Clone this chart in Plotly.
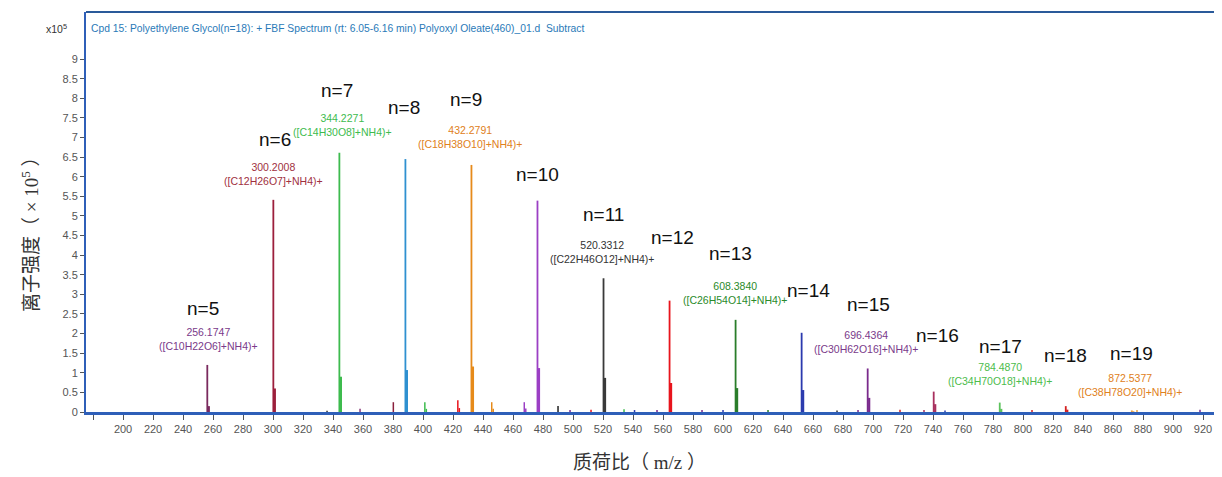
import plotly.graph_objects as go

# ---------------- data ----------------
# main PEG oligomer peaks ([M+NH4]+), intensities in x10^5
main_mz = [256.17, 300.20, 344.23, 388.25, 432.28, 476.30, 520.33, 564.36,
           608.38, 652.41, 696.44, 740.46, 784.49, 828.51, 872.54]
main_h = [1.20, 5.41, 6.61, 6.45, 6.30, 5.39, 3.41, 2.84,
          2.35, 2.02, 1.11, 0.52, 0.24, 0.15, 0.04]
iso_h = [0.15, 0.60, 0.90, 1.07, 1.16, 1.12, 0.87, 0.74,
         0.61, 0.56, 0.36, 0.20, 0.08, 0.06, 0.02]
main_colors = ["#7a2a5e", "#9c1f3c", "#3dbb4e", "#2f90d0", "#e68a1a",
               "#9b3fc4", "#3a3a3a", "#e8141c", "#2a7d2a", "#2b3aae",
               "#7a2a8c", "#a8305e", "#5cc25c", "#d42020", "#e8a040"]
n_labels = ["n=5", "n=6", "n=7", "n=8", "n=9", "n=10", "n=11", "n=12",
            "n=13", "n=14", "n=15", "n=16", "n=17", "n=18", "n=19"]

# minor peaks
minor_mz = [336.0, 358.0, 380.2, 401.2, 402.2, 423.2, 424.2, 445.8, 446.8,
            467.5, 468.5, 490.0, 498.0, 512.0, 534.0, 541.0, 556.0, 586.0,
            600.0, 630.0, 676.0, 690.0, 718.0, 734.0, 748.0, 806.0, 876.0, 918.0]
minor_h = [0.03, 0.08, 0.25, 0.25, 0.08, 0.30, 0.10, 0.25, 0.08,
           0.25, 0.09, 0.15, 0.05, 0.06, 0.07, 0.05, 0.05, 0.05,
           0.05, 0.05, 0.04, 0.05, 0.06, 0.05, 0.04, 0.05, 0.05, 0.06]
minor_colors = ["#333333", "#8a3a7a", "#8a1f3c", "#3dbb4e", "#3dbb4e", "#e8141c",
                "#e8141c", "#e68a1a", "#e68a1a", "#9b3fc4", "#9b3fc4", "#222222",
                "#7a2a8c", "#e8141c", "#3dbb4e", "#2b3aae", "#7a2a8c", "#7a2a8c",
                "#2b3aae", "#2a7d2a", "#333333", "#7a2a8c", "#d42020", "#a8305e",
                "#2b3aae", "#d42020", "#e8a040", "#7a2a8c"]

# annotated masses
mass_mz = [256.1747, 300.2008, 344.2271, 432.2791, 520.3312,
           608.3840, 696.4364, 784.4870, 872.5377]
mass_formula = ["([C10H22O6]+NH4)+", "([C12H26O7]+NH4)+", "([C14H30O8]+NH4)+",
                "([C18H38O10]+NH4)+", "([C22H46O12]+NH4)+", "([C26H54O14]+NH4)+",
                "([C30H62O16]+NH4)+", "([C34H70O18]+NH4)+", "([C38H78O20]+NH4)+"]
mass_colors = ["#7a3a8a", "#a0303e", "#3dbb4e", "#e08020", "#333333",
               "#2a8a2a", "#7a3a8a", "#4cbc4c", "#e08020"]

x_tick_vals = list(range(180, 921, 20))
y_tick_vals = [i * 0.5 for i in range(19)]

# ---------------- label positions (styling) ----------------
n_pos_x = [253.3, 301.3, 342.7, 387.3, 428.7, 476.0, 520.0, 566.0,
           605.3, 656.7, 696.7, 743.3, 784.7, 828.0, 872.0]
n_pos_y = [2.65, 6.94, 8.21, 7.76, 7.96, 6.05, 5.03, 4.46,
           4.05, 3.09, 2.73, 1.94, 1.66, 1.45, 1.48]
mass_pos_x = [256.7, 300.0, 346.0, 431.3, 519.3, 608.0, 695.3, 784.7, 871.3]
mass_pos_y = [1.87, 6.07, 7.32, 7.02, 4.08, 3.04, 1.79, 0.96, 0.70]

fig = go.Figure()


def add_stick(mz, h, color, width=1.8):
    fig.add_trace(go.Scatter(x=[mz, mz], y=[0, h], mode="lines",
                             line=dict(color=color, width=width),
                             showlegend=False, hoverinfo="x+y"))


for mz, h, hi, c in zip(main_mz, main_h, iso_h, main_colors):
    add_stick(mz, h, c)
    add_stick(mz + 1.0, hi, c, 2.2)

for mz, h, c in zip(minor_mz, minor_h, minor_colors):
    add_stick(mz, h, c, 1.5)

annotations = []
for t, x, y in zip(n_labels, n_pos_x, n_pos_y):
    annotations.append(dict(x=x, y=y, xref="x", yref="y", text=t, showarrow=False,
                            font=dict(family="Liberation Sans, Arial", size=19, color="#111111")))
for mz, f, c, x, y in zip(mass_mz, mass_formula, mass_colors, mass_pos_x, mass_pos_y):
    annotations.append(dict(x=x, y=y, xref="x", yref="y", text=f"{mz:.4f}<br>{f}",
                            showarrow=False, align="center",
                            font=dict(family="Liberation Sans, Arial", size=10.5, color=c)))

annotations.append(dict(x=0, y=1, xref="paper", yref="paper", xanchor="left", yanchor="middle",
                        xshift=3, yshift=-16, showarrow=False,
                        text="Cpd 15: Polyethylene Glycol(n=18): + FBF Spectrum (rt: 6.05-6.16 min) "
                             "Polyoxyl Oleate(460)_01.d  Subtract",
                        font=dict(family="Liberation Sans, Arial", size=10.3, color="#2a7ab8")))
annotations.append(dict(x=0, y=1, xref="paper", yref="paper", xanchor="right", yanchor="middle",
                        xshift=-17, yshift=-16, showarrow=False,
                        text="x10<sup>5</sup>",
                        font=dict(family="Liberation Sans, Arial", size=10.5, color="#333333")))
annotations.append(dict(x=0, y=0.455, xref="paper", yref="paper", xanchor="center", yanchor="middle",
                        xshift=-56, showarrow=False, textangle=-90,
                        text="离子强度（ × 10<sup>5</sup> ）",
                        font=dict(family="Liberation Serif, Noto Sans CJK SC", size=19, color="#333333")))
annotations.append(dict(x=0.489, y=0, xref="paper", yref="paper", xanchor="center", yanchor="middle",
                        yshift=-50, showarrow=False,
                        text="质荷比（ m/z ）",
                        font=dict(family="Liberation Serif, Noto Sans CJK SC", size=19, color="#333333")))

# the page body adds an 8px offset, so the figure is 8px smaller than the window
fig.update_layout(
    width=1214, height=469,
    margin=dict(l=78, r=4, t=4, b=65),
    paper_bgcolor="white", plot_bgcolor="white",
    annotations=annotations,
    xaxis=dict(range=[175.3, 930], tickvals=x_tick_vals,
               ticktext=[("" if v == 180 else str(v)) for v in x_tick_vals],
               ticks="outside", ticklen=5, tickcolor="#555555", tickwidth=1,
               tickfont=dict(family="Liberation Sans, Arial", size=11, color="#555555"),
               showline=True, linecolor="#2f5fb8", linewidth=3,
               showgrid=False, zeroline=False),
    yaxis=dict(range=[0, 10.2], tickvals=y_tick_vals,
               ticktext=[(str(int(v)) if v == int(v) else str(v)) for v in y_tick_vals],
               ticks="outside", ticklen=4, tickcolor="#555555", tickwidth=1,
               tickfont=dict(family="Liberation Sans, Arial", size=11, color="#555555"),
               showline=True, linecolor="#2f5fb8", linewidth=2,
               showgrid=False, zeroline=False),
    shapes=[
        dict(type="line", xref="paper", yref="paper", x0=0, x1=1, y0=1, y1=1,
             line=dict(color="#2a5a9a", width=2)),
        dict(type="line", xref="paper", yref="paper", x0=1, x1=1, y0=0, y1=1,
             line=dict(color="#dfe9f2", width=1)),
    ],
)

fig.write_html("out.html")
